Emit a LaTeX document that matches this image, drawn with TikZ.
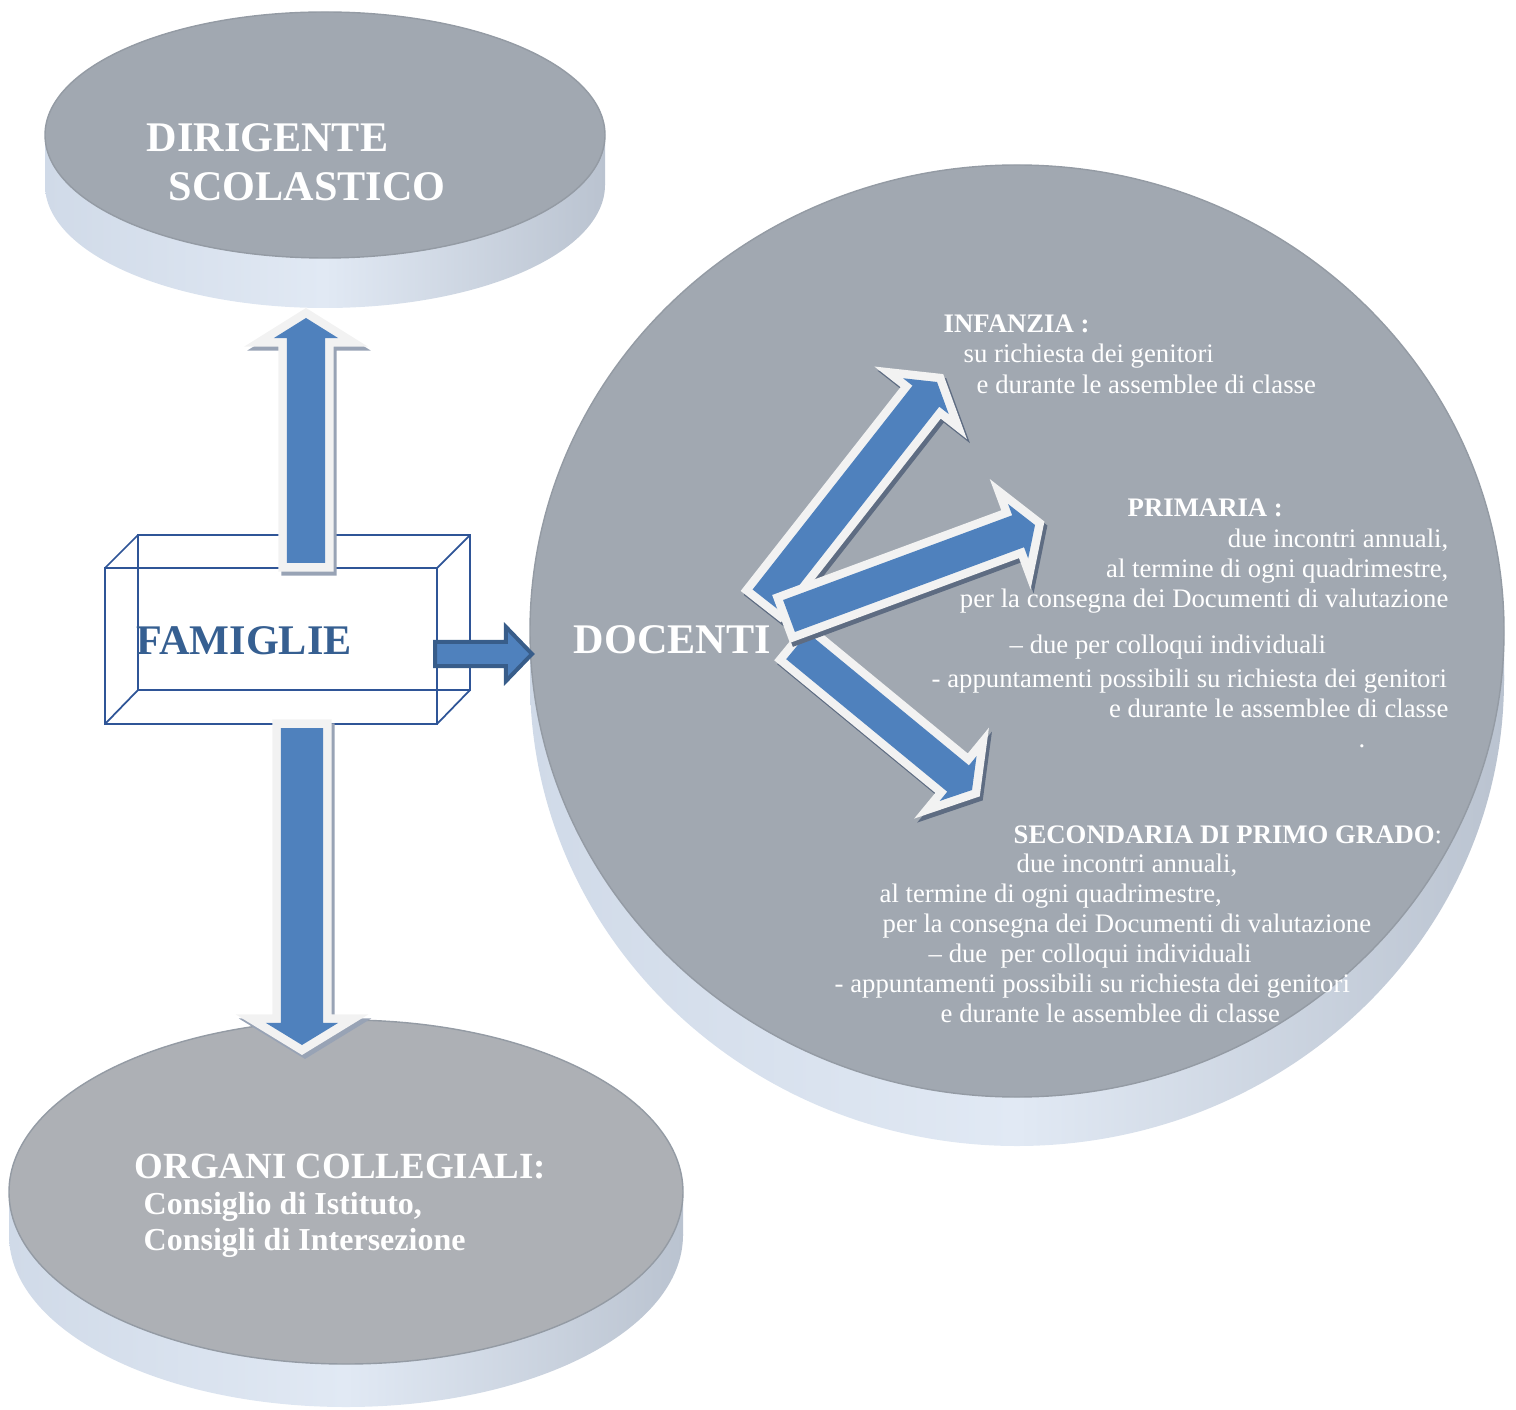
\documentclass[tikz,border=0pt]{standalone}
\usepackage{fontspec}
\setmainfont{Liberation Serif}
\usepackage{tikz}
\usetikzlibrary{calc}

\definecolor{grigiodisco}{HTML}{A1A8B1}
\definecolor{grigiobasso}{HTML}{ADB0B5}
\definecolor{bordodisco}{HTML}{949BA4}
\definecolor{fiancochiaro}{HTML}{E1E9F4}
\definecolor{fiancosx}{HTML}{D0DAE8}
\definecolor{fiancodx}{HTML}{BAC3D0}
\definecolor{blu}{HTML}{4F81BD}
\definecolor{bluscuro}{HTML}{385D8A}
\definecolor{bianco}{HTML}{F2F2F2}
\definecolor{ombrafuori}{HTML}{98A3B5}
\definecolor{ombradentro}{HTML}{5E6C82}
\definecolor{scatola}{HTML}{2F5597}
\definecolor{testoblu}{HTML}{365F91}

% #1 stile, #2 spostamento, #3 coda, #4 punta, #5 mezza asta, #6 mezza punta, #7 lunghezza punta
\newcommand{\blocco}[7]{%
  \path[#1] let \p1=($(#3)+#2$), \p2=($(#4)+#2$), \n1={atan2(\y2-\y1,\x2-\x1)} in
    ($(\p1)+(\n1+90:#5)$) -- ($(\p2)+(\n1+180:#7)+(\n1+90:#5)$) -- ($(\p2)+(\n1+180:#7)+(\n1+90:#6)$)
    -- (\p2) -- ($(\p2)+(\n1+180:#7)+(\n1-90:#6)$) -- ($(\p2)+(\n1+180:#7)+(\n1-90:#5)$)
    -- ($(\p1)+(\n1-90:#5)$) -- cycle;}
\newcommand{\frecciona}[6]{%
  \blocco{fill=#1,draw=#1,line width=0.17cm,line join=miter}{(3,4)}{#2}{#3}{#4}{#5}{#6}
  \blocco{fill=bianco,draw=bianco,line width=0.17cm,line join=miter}{(0,0)}{#2}{#3}{#4}{#5}{#6}
  \blocco{fill=blu}{(0,0)}{#2}{#3}{#4}{#5}{#6}}
% #1 cx, #2 cy, #3 rx, #4 ry, #5 spessore, #6 colore faccia
\newcommand{\disco}[6]{%
  \shade[left color=fiancosx, right color=fiancodx, middle color=fiancochiaro] (#1-#3,#2) rectangle (#1+#3,#2+#5);
  \shade[left color=fiancosx, right color=fiancodx, middle color=fiancochiaro] (#1,#2+#5) ellipse [x radius=#3, y radius=#4];
  \filldraw[fill=#6, draw=bordodisco, line width=0.4pt] (#1,#2) ellipse [x radius=#3, y radius=#4];}

\begin{document}
\begin{tikzpicture}[x=0.01cm, y=-0.01cm,
    titolo/.style={anchor=base west, inner sep=0pt, text=white, font=\bfseries\fontsize{12}{14}\selectfont},
    riga/.style={anchor=base west, inner sep=0pt, text=white, font=\fontsize{7.6}{9}\selectfont},
    rigab/.style={riga, font=\bfseries\fontsize{7.6}{9}\selectfont}]
	\useasboundingbox (0,0) rectangle (1516,1410);
	\disco{325}{135}{280}{123}{50}{grigiodisco}
	\disco{1017}{631}{487}{466}{49}{grigiodisco}
	\disco{346}{1192}{337}{172}{43}{grigiobasso}
	\draw[scatola, line width=0.5pt] (105,568) rectangle (437,724) (138,535) rectangle (470,690)
		(105,568) -- (138,535) (437,568) -- (470,535) (105,724) -- (138,690) (437,724) -- (470,690);
	\coordinate (su0) at (306,563);
	\coordinate (su1) at (306,318);
	\coordinate (giu0) at (302,728);
	\coordinate (giu1) at (302,1045);
	\coordinate (dx0) at (435,654);
	\coordinate (dx1) at (532,654);
	\coordinate (inf0) at (766,600);
	\coordinate (inf1) at (937,382);
	\coordinate (sec0) at (797,646);
	\coordinate (sec1) at (972,790);
	\coordinate (pri0) at (789,616);
	\coordinate (pri1) at (1035,525);
	\frecciona{ombrafuori}{su0}{su1}{0.19cm}{0.32cm}{0.20cm}
	\frecciona{ombrafuori}{giu0}{giu1}{0.21cm}{0.36cm}{0.22cm}
	\blocco{fill=blu, draw=bluscuro, line width=0.04cm, line join=miter}{(0,0)}{dx0}{dx1}{0.12cm}{0.27cm}{0.26cm}
	\frecciona{ombradentro}{inf0}{inf1}{0.17cm}{0.29cm}{0.18cm}
	\frecciona{ombradentro}{sec0}{sec1}{0.17cm}{0.29cm}{0.18cm}
	\frecciona{ombradentro}{pri0}{pri1}{0.17cm}{0.29cm}{0.18cm}
	\node[titolo] (dirigente) at (146,152) {DIRIGENTE};
	\node[titolo] (scolastico) at (168,201) {SCOLASTICO};
	\node[titolo, text=testoblu] (famiglie) at (136,654) {FAMIGLIE};
	\node[titolo] (docenti) at (573,653) {DOCENTI};
	\node[titolo, font=\bfseries\fontsize{10.5}{12}\selectfont] (organi) at (134,1178) {ORGANI COLLEGIALI:};
	\node[titolo, font=\bfseries\fontsize{9.1}{11}\selectfont] (istituto) at (143,1214) {Consiglio di Istituto,};
	\node[titolo, font=\bfseries\fontsize{9.1}{11}\selectfont] (intersezione) at (143,1250) {Consigli di Intersezione};
	\node[rigab] (inf) at (943,333) {INFANZIA :};
	\node[riga] (inf2) at (963,363) {su richiesta dei genitori};
	\node[riga] (inf3) at (976,394) {e durante le assemblee di classe};
	\node[rigab] (pri) at (1127,517) {PRIMARIA :};
	\node[riga, anchor=base east] (pri2) at (1449,548) {due incontri annuali,};
	\node[riga, anchor=base east] (pri3) at (1449,578) {al termine di ogni quadrimestre,};
	\node[riga, anchor=base east] (pri4) at (1449,608) {per la consegna dei Documenti di valutazione};
	\node[riga] (pri5) at (1009,653) {– due per colloqui individuali};
	\node[riga] (pri6) at (931,688) {- appuntamenti possibili su richiesta dei genitori};
	\node[riga, anchor=base east] (pri7) at (1449,718) {e durante le assemblee di classe};
	\node[riga] (pri8) at (1358,748) {.};
	\node[riga] (sec) at (1013,843) {\textbf{SECONDARIA DI PRIMO GRADO}:};
	\node[riga] (sec2) at (1016,872) {due incontri annuali,};
	\node[riga] (sec3) at (879,902) {al termine di ogni quadrimestre,};
	\node[riga] (sec4) at (882,932) {per la consegna dei Documenti di valutazione};
	\node[riga] (sec5) at (928,962) {– due\ \ per colloqui individuali};
	\node[riga] (sec6) at (834,992) {- appuntamenti possibili su richiesta dei genitori};
	\node[riga] (sec7) at (940,1022) {e durante le assemblee di classe};
\end{tikzpicture}
\end{document}
